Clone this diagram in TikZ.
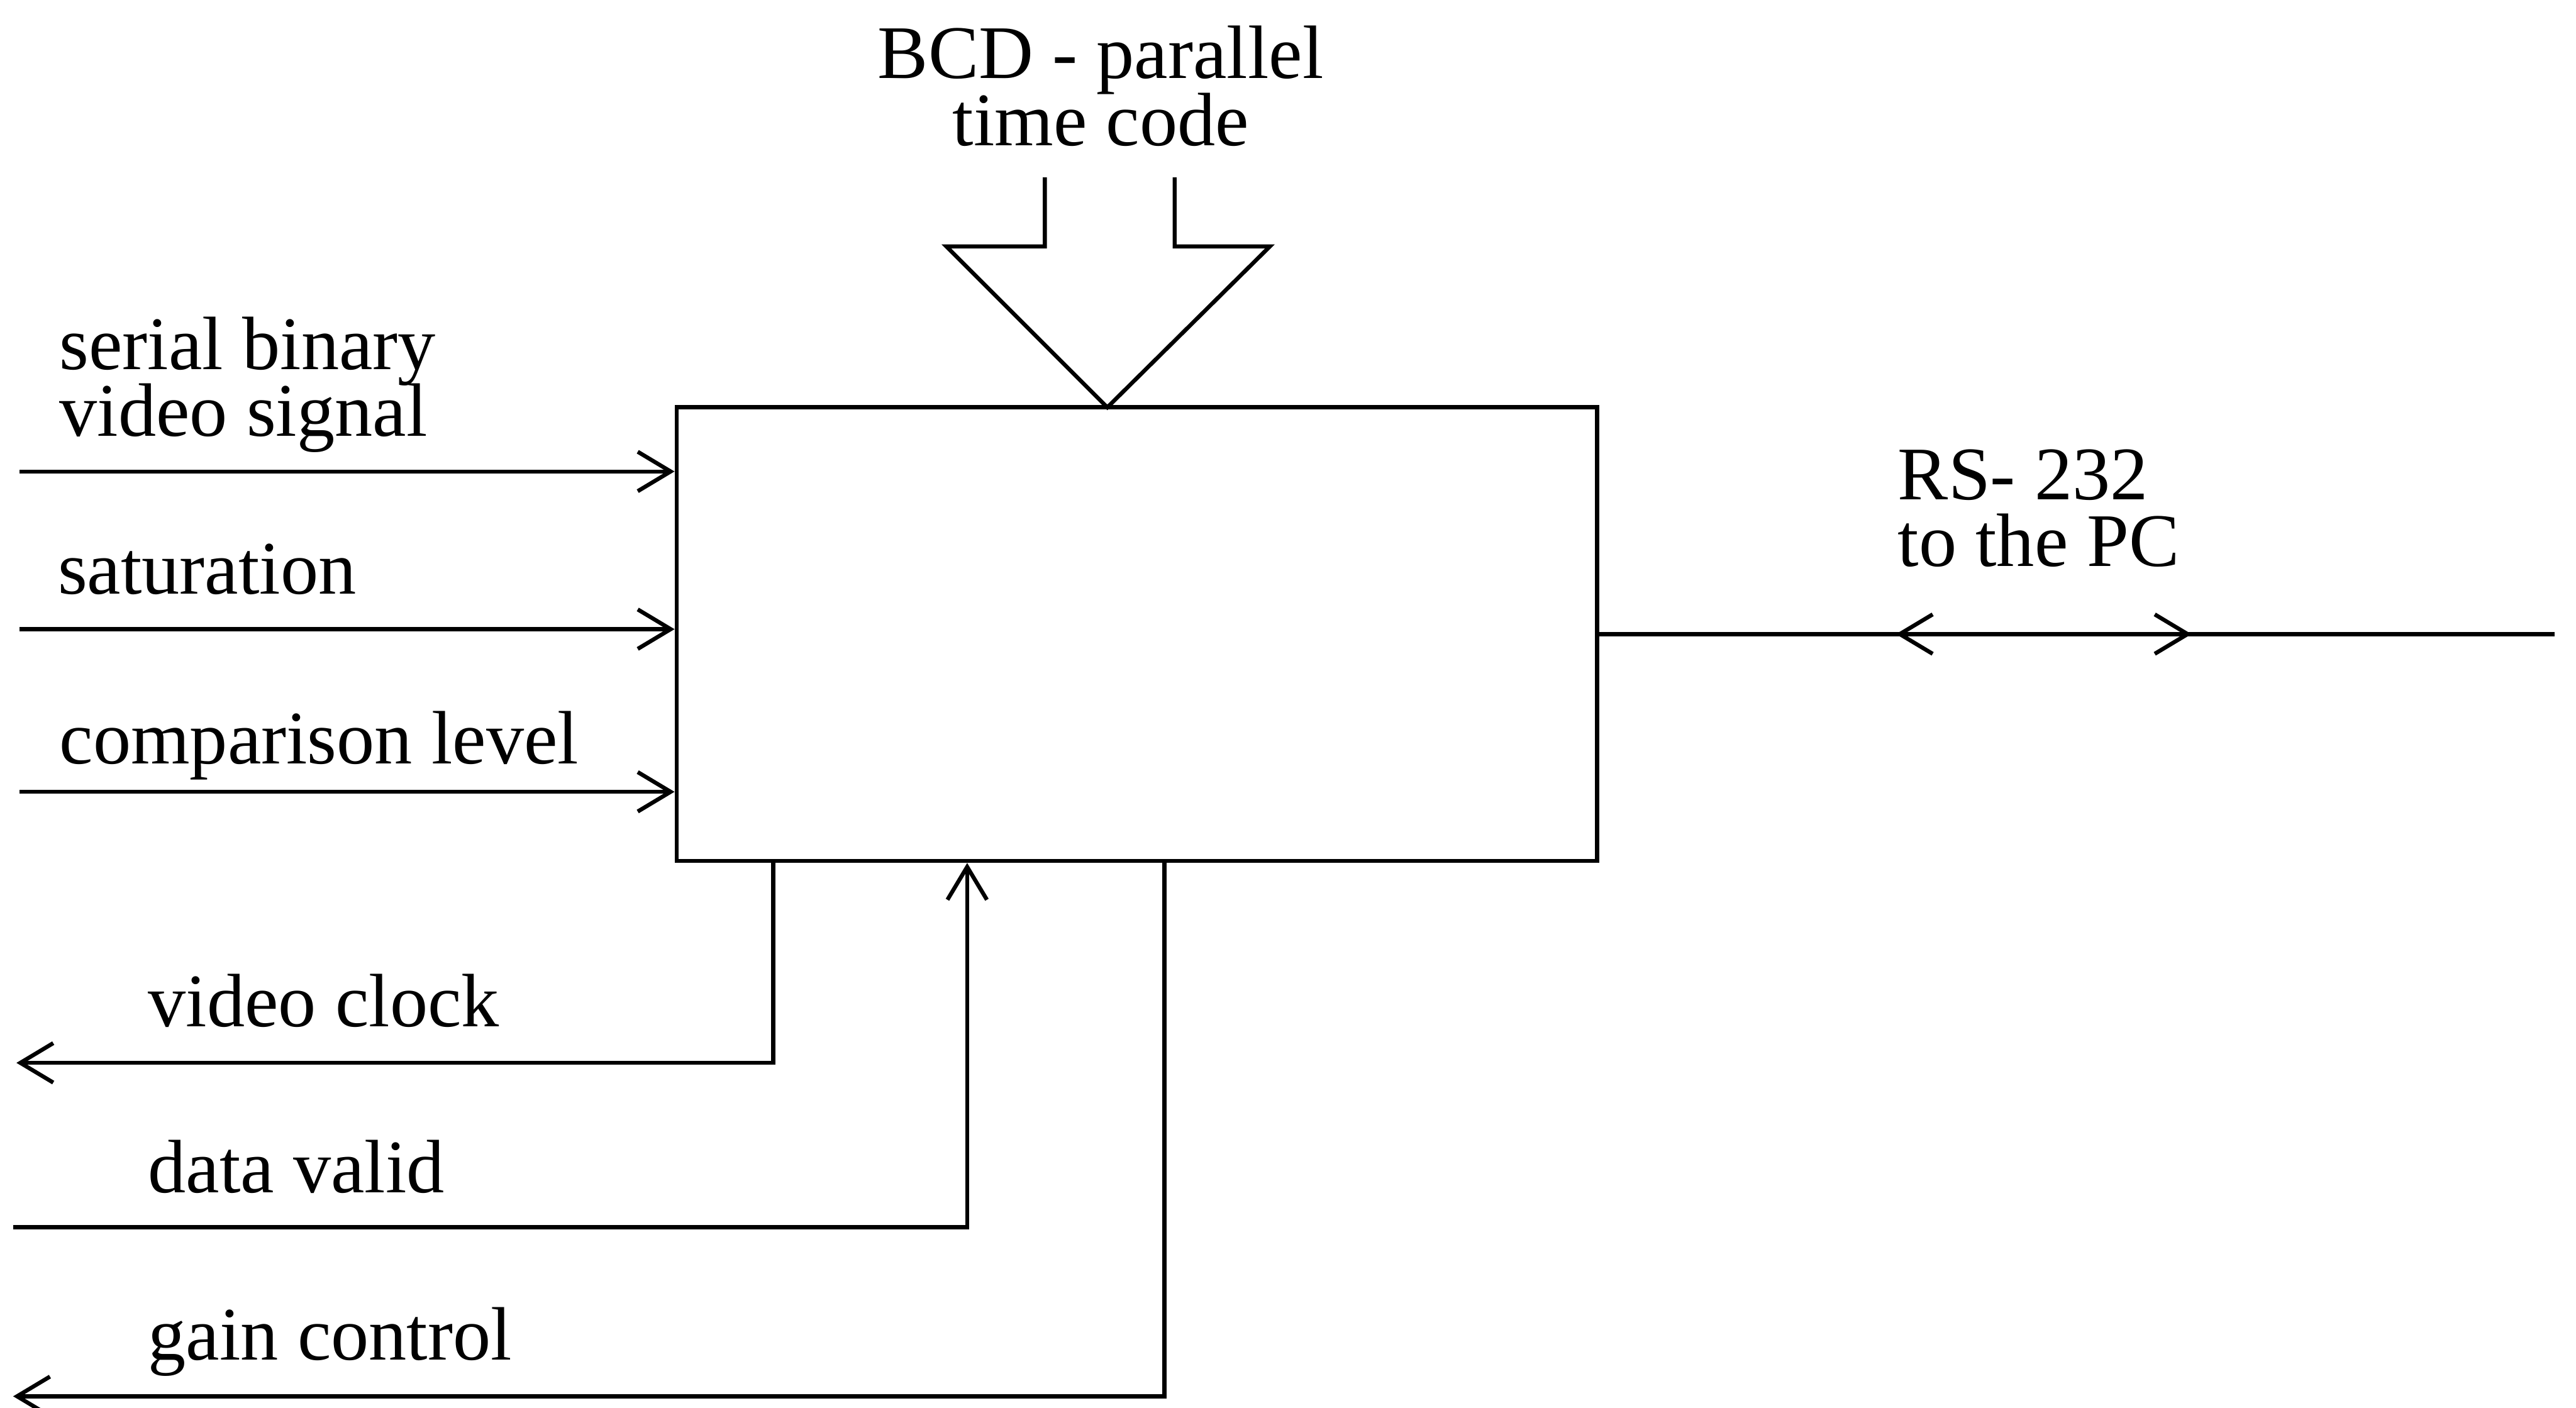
\documentclass[tikz,border=0pt]{standalone}
\usepackage{fontspec}
\setmainfont{Liberation Serif}
\usetikzlibrary{arrows.meta}
\newcommand\myTightFont{\fontsize{13.1pt}{11.6pt}\selectfont\lineskiplimit=-16000pt\relax}
\begin{document}
\begin{tikzpicture}[x=0.01cm,y=-0.01cm,
  line width=0.7pt,
  barb/.tip={Straight Barb[length=2mm,width=2.4mm]},
  arr/.style={-barb},
  lbl/.style={inner sep=0pt,anchor=base west,align=left,font=\myTightFont},
  clbl/.style={inner sep=0pt,anchor=base,align=center,font=\myTightFont},
  blockbox/.style={draw,rectangle,inner sep=0pt,minimum width=5.6cm,minimum height=2.76cm}]
\useasboundingbox (0,0) rectangle (1568,857);

% main block
\node[blockbox] (blk) at (692,386) {};

% top BCD label and hollow arrow
\node[clbl] (bcd) at (670,88.5) {BCD - parallel\\time code};
\coordinate (s1) at (636,108);
\coordinate (s2) at (715,108);
\coordinate (w1) at (576,150);
\coordinate (w2) at (773,150);
\coordinate (tip) at (674,248);
\draw (s1) -- (s1 |- w1) -- (w1) -- (tip) -- (w2) -- (s2 |- w2) -- (s2);

% inputs from the left
\node[lbl] (l1) at (35,265.5) {serial binary\\video signal};
\node[lbl] (l2) at (34,361.6) {saturation};
\node[lbl] (l3) at (35,464.8) {comparison level};
\coordinate (i1) at (12,287);
\coordinate (i2) at (12,383);
\coordinate (i3) at (12,482);
\draw[arr] (i1) -- (i1 -| blk.west);
\draw[arr] (i2) -- (i2 -| blk.west);
\draw[arr] (i3) -- (i3 -| blk.west);

% bottom signals
\node[lbl] (l4) at (89,625) {video clock};
\node[lbl] (l5) at (89,726) {data valid};
\node[lbl] (l6) at (89,828) {gain control};
\coordinate (o1) at (10,647);
\coordinate (i4) at (8,747);
\coordinate (o2) at (8,850);
\draw[arr] ([xshift=0.6cm]blk.south west) |- (o1);
\draw[arr] (i4) -| ([xshift=1.78cm]blk.south west);
\draw[arr] ([xshift=2.98cm]blk.south west) |- (o2);

% RS-232
\node[lbl] (l7) at (1154,344.8) {RS- 232\\to the PC};
\coordinate (rsend) at (1555,386);
\coordinate (rsa) at (1154,386);
\coordinate (rsb) at (1334,386);
\draw (blk.east) -- (rsend);
\draw[barb-barb] (rsa) -- (rsb);
\end{tikzpicture}
\end{document}
